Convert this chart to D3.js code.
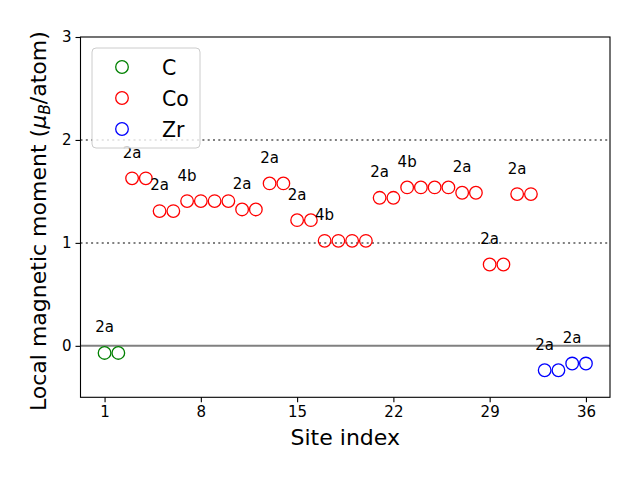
<!DOCTYPE html>
<html><head><meta charset="utf-8">
<script src="https://cdn.jsdelivr.net/npm/d3@7"></script>
<style>body{margin:0;background:#fff}svg{display:block}text{font-family:"DejaVu Sans",sans-serif}</style>
</head><body><svg id="c" width="640" height="480"></svg>
<script>
const cSites = [1, 2];
const cValues = [-0.069, -0.069];
const coSites = [3,4,5,6,7,8,9,10,11,12,13,14,15,16,17,18,19,20,21,22,23,24,25,26,27,28,29,30,31,32];
const coValues = [1.627,1.627,1.309,1.309,1.406,1.406,1.406,1.406,1.325,1.325,1.578,1.578,1.221,1.221,1.02,1.02,1.02,1.02,1.438,1.438,1.539,1.539,1.539,1.539,1.487,1.487,0.79,0.79,1.474,1.474];
const zrSites = [33, 34, 35, 36];
const zrValues = [-0.237, -0.237, -0.172, -0.172];
const wyckoffSites = [1, 3, 5, 7, 11, 13, 15, 17, 21, 23, 27, 29, 31, 33, 35];
const wyckoffLabels = ["2a","2a","2a","4b","2a","2a","2a","4b","2a","4b","2a","2a","2a","2a","2a"];
const xTicks = [1, 8, 15, 22, 29, 36];
const yTicks = [0, 1, 2, 3];
const refLines = [1, 2];

const svg = d3.select("#c");
const L = 80.5, R = 610, T = 37, B = 397.3;
const x = d3.scaleLinear().domain([-0.75, 37.75]).range([L, R]);
const y = d3.scaleLinear().domain([-0.5, 3]).range([B, T]);

const allSites = cSites.concat(coSites, zrSites);
const allVals = cValues.concat(coValues, zrValues);
const valueAt = s => allVals[allSites.indexOf(s)];

// reference lines
svg.selectAll("line.ref").data(refLines).enter().append("line")
  .attr("x1", L).attr("x2", R).attr("y1", d => y(d)).attr("y2", d => y(d))
  .attr("stroke", "#808080").attr("stroke-width", 2).attr("stroke-dasharray", "2,3.3");
svg.append("line").attr("x1", L).attr("x2", R).attr("y1", y(0)).attr("y2", y(0))
  .attr("stroke", "#808080").attr("stroke-width", 2);

const series = [
  {name: "C", sites: cSites, vals: cValues, color: "green"},
  {name: "Co", sites: coSites, vals: coValues, color: "red"},
  {name: "Zr", sites: zrSites, vals: zrValues, color: "blue"}
];
series.forEach(s => {
  svg.append("g").selectAll("circle").data(s.sites).enter().append("circle")
    .attr("cx", d => x(d)).attr("cy", (d, i) => y(s.vals[i])).attr("r", 6.3)
    .attr("fill", "none").attr("stroke", s.color).attr("stroke-width", 1.3);
});

// site labels
svg.append("g").selectAll("text").data(wyckoffSites).enter().append("text")
  .attr("x", d => x(d)).attr("y", d => y(valueAt(d) + 0.2))
  .attr("text-anchor", "middle").attr("font-size", 15).text((d, i) => wyckoffLabels[i]);

// axes
const xa = svg.append("g").attr("transform", `translate(0,${B})`)
  .call(d3.axisBottom(x).tickValues(xTicks).tickFormat(d3.format("d")).tickSize(5).tickPadding(4));
const ya = svg.append("g").attr("transform", `translate(${L},0)`)
  .call(d3.axisLeft(y).tickValues(yTicks).tickFormat(d3.format("d")).tickSize(5).tickPadding(4));
[xa, ya].forEach(a => {
  a.select(".domain").remove();
  a.selectAll("text").attr("font-size", 15).attr("font-family", "DejaVu Sans").attr("fill", "#000");
  a.selectAll("line").attr("stroke", "#000").attr("stroke-width", 1.1);
});
svg.append("rect").attr("x", L).attr("y", T).attr("width", R - L).attr("height", B - T)
  .attr("fill", "none").attr("stroke", "#000").attr("stroke-width", 1.1);

// axis labels
svg.append("text").attr("x", (L + R) / 2).attr("y", 445).attr("text-anchor", "middle")
  .attr("font-size", 22).text("Site index");
const yl = svg.append("text").attr("transform", `translate(45.5,${(T + B) / 2 + 4}) rotate(-90)`)
  .attr("text-anchor", "middle").attr("font-size", 22);
yl.append("tspan").text("Local magnetic moment (");
yl.append("tspan").attr("font-style", "italic").text("μ");
yl.append("tspan").attr("font-style", "italic").attr("font-size", 15.5).attr("dy", 4).text("B");
yl.append("tspan").attr("dy", -4).text("/atom)");

// legend
const lg = svg.append("g");
lg.append("rect").attr("x", 92).attr("y", 48).attr("width", 108).attr("height", 100).attr("rx", 4)
  .attr("fill", "#fff").attr("fill-opacity", 0.8).attr("stroke", "#cccccc").attr("stroke-width", 1);
series.forEach((s, i) => {
  const cy = 67 + i * 31;
  lg.append("circle").attr("cx", 122).attr("cy", cy).attr("r", 6.3)
    .attr("fill", "none").attr("stroke", s.color).attr("stroke-width", 1.3);
  lg.append("text").attr("x", 162).attr("y", cy + 7.5).attr("font-size", 20.5).text(s.name);
});
</script></body></html>
